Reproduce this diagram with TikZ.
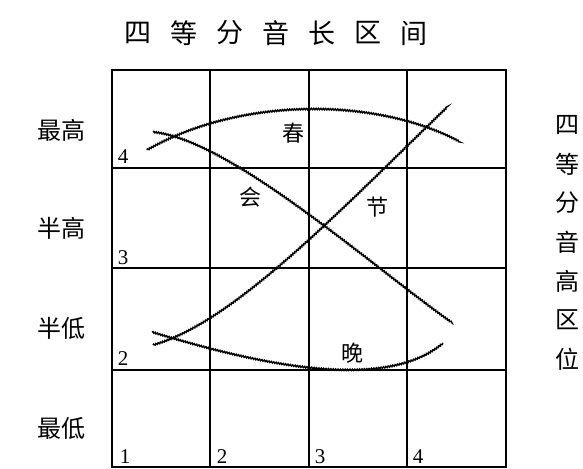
\documentclass[tikz,border=0pt]{standalone}
\usepackage{fontspec}
\setmainfont{Liberation Serif}
\newfontfamily\cjk{Noto Sans CJK SC}
\usetikzlibrary{decorations.pathmorphing}
\tikzset{
  gridline/.style={line width=0.75pt, black},
  wavy/.style={line width=0.7pt, black, decorate, decoration={snake, amplitude=0.35pt, segment length=1.2pt}},
  titlech/.style={font=\cjk\fontsize{13.5}{13.5}\selectfont, inner sep=0pt},
  sidech/.style={font=\cjk\fontsize{12}{12}\selectfont, inner sep=0pt},
  wordch/.style={font=\cjk\fontsize{11}{11}\selectfont, inner sep=0pt},
  num/.style={font=\fontsize{10.5}{10.5}\selectfont, inner sep=0pt},
}
\begin{document}
\begin{tikzpicture}[x=0.5pt,y=-0.5pt]
\useasboundingbox (0,0) rectangle (583,469);
% title
\foreach \c [count=\i from 0] in {四,等,分,音,长,区,间}
  \node[titlech] (t\i) at (138+46*\i,33) {\c};
% right vertical text
\foreach \c [count=\i from 0] in {四,等,分,音,高,区,位}
  \node[sidech] (r\i) at (567,125+39*\i) {\c};
% left labels
\node[sidech] (lv4) at (61,130) {最高};
\node[sidech] (lv3) at (61,228) {半高};
\node[sidech] (lv2) at (61,328) {半低};
\node[sidech] (lv1) at (61,428) {最低};
% grid
\draw[gridline] (112,70) rectangle (506,467);
\foreach \x in {210,309,407} \draw[gridline] (\x,70) -- (\x,467);
\foreach \y in {168,268,370} \draw[gridline] (112,\y) -- (506,\y);
% corner numbers
\node[num] (n4) at (123,157) {4};
\node[num] (n3) at (123,258) {3};
\node[num] (n2) at (123,359) {2};
\node[num] (b1) at (125,457) {1};
\node[num] (b2) at (222,457) {2};
\node[num] (b3) at (320,457) {3};
\node[num] (b4) at (418,457) {4};
% curves
\draw[wavy] (147,150) .. controls (240,97) and (376,97) .. (460,142);
\draw[wavy] (153,132) .. controls (230,140) and (370,265) .. (452,323);
\draw[wavy] (153,345) .. controls (235,322) and (345,205) .. (447,107);
\draw[wavy] (152,332) .. controls (260,365) and (385,392) .. (443,343);
% words
\node[wordch] (w1) at (293,133) {春};
\node[wordch] (w2) at (250,197) {会};
\node[wordch] (w3) at (377,207) {节};
\node[wordch] (w4) at (352,353) {晚};
\end{tikzpicture}
\end{document}
